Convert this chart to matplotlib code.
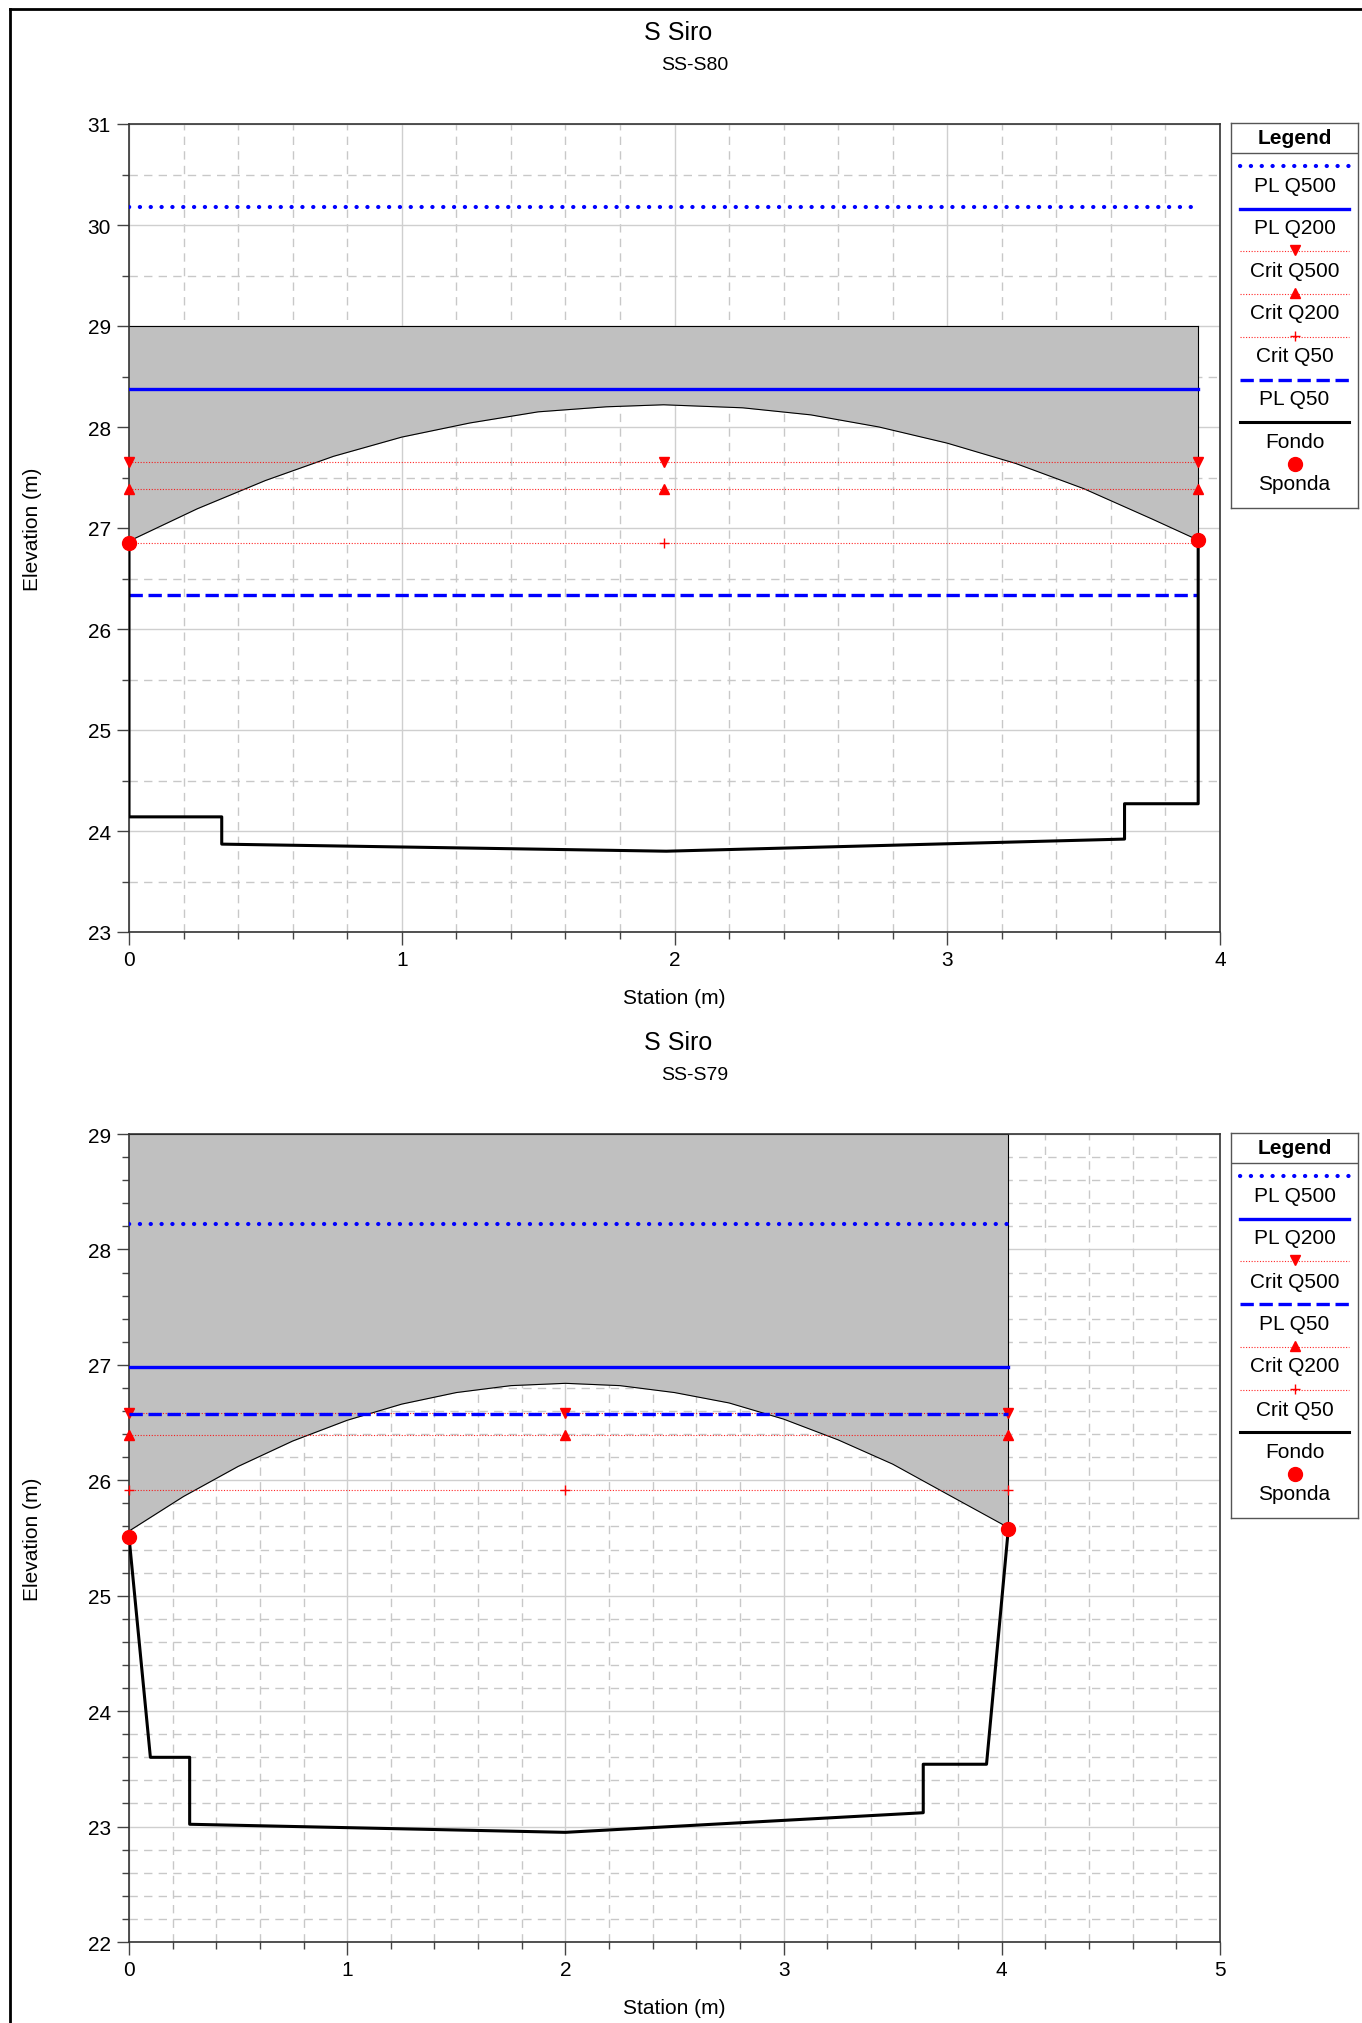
import matplotlib
matplotlib.use('Agg')
import matplotlib.pyplot as plt
from matplotlib.lines import Line2D
from matplotlib.ticker import MultipleLocator

plt.rcParams['font.family'] = ['Liberation Sans', 'DejaVu Sans']

W, H = 1362, 2024
fig = plt.figure(figsize=(W / 100, H / 100), dpi=100)

# ---------------- data: SS-S80 ----------------
s80_arch_x = [0, 0.25, 0.5, 0.75, 1.0, 1.25, 1.5, 1.75, 1.96, 2.25, 2.5, 2.75, 3.0, 3.25, 3.5, 3.75, 3.92]
s80_arch_y = [26.87, 27.19, 27.47, 27.71, 27.90, 28.04, 28.15, 28.20, 28.22, 28.19, 28.12, 28.00, 27.84, 27.64, 27.39, 27.09, 26.88]
s80_deck_top = 29.0
s80_fondo_x = [0, 0, 0.34, 0.34, 1.97, 3.65, 3.65, 3.92, 3.92]
s80_fondo_y = [26.85, 24.14, 24.14, 23.87, 23.80, 23.92, 24.27, 24.27, 26.88]
s80_sponda_x = [0, 3.92]
s80_sponda_y = [26.85, 26.88]
s80_ws_x = [0, 3.92]
s80_pl_q500 = 30.18
s80_pl_q200 = 28.38
s80_pl_q50 = 26.34
s80_crit_x = [0, 1.96, 3.92]
s80_crit_q500 = 27.65
s80_crit_q200 = 27.39
s80_crit_q50 = 26.85

# ---------------- data: SS-S79 ----------------
s79_arch_x = [0, 0.25, 0.5, 0.75, 1.0, 1.25, 1.5, 1.75, 2.0, 2.25, 2.5, 2.75, 3.0, 3.25, 3.5, 3.75, 4.03]
s79_arch_y = [25.56, 25.86, 26.12, 26.34, 26.52, 26.66, 26.76, 26.82, 26.84, 26.82, 26.76, 26.67, 26.53, 26.35, 26.14, 25.88, 25.59]
s79_deck_top = 29.0
s79_fondo_x = [0, 0.098, 0.278, 0.278, 2.0, 3.64, 3.64, 3.93, 4.03]
s79_fondo_y = [25.51, 23.60, 23.60, 23.02, 22.95, 23.12, 23.54, 23.54, 25.58]
s79_sponda_x = [0, 4.03]
s79_sponda_y = [25.51, 25.58]
s79_ws_x = [0, 4.03]
s79_pl_q500 = 28.22
s79_pl_q200 = 26.98
s79_pl_q50 = 26.57
s79_crit_x = [0, 2.0, 4.03]
s79_crit_q500 = 26.58
s79_crit_q200 = 26.39
s79_crit_q50 = 25.92

title_main = "S Siro"
xlabel = "Station (m)"
ylabel = "Elevation (m)"

BLUE = '#0000FF'
RED = '#FF0000'
STYLES = {
    'PL Q500': dict(color=BLUE, lw=3.0, linestyle=(0, (0.05, 2.55)), dash_capstyle='round', solid_capstyle='round'),
    'PL Q200': dict(color=BLUE, lw=2.4, linestyle='-'),
    'PL Q50': dict(color=BLUE, lw=2.4, linestyle=(0, (4.0, 1.7))),
    'Crit Q500': dict(color=RED, lw=0.8, linestyle=(0, (1, 1.5)), alpha=0.85, marker='v', ms=6.5),
    'Crit Q200': dict(color=RED, lw=0.8, linestyle=(0, (1, 1.5)), alpha=0.85, marker='^', ms=6.5),
    'Crit Q50': dict(color=RED, lw=0.8, linestyle=(0, (1, 1.5)), alpha=0.85, marker='+', ms=7, mew=1),
    'Fondo': dict(color='black', lw=2.2, linestyle='-'),
}

TICK_FS = 15
LABEL_FS = 15
LEG_FS = 15


def draw_section(ax, arch_x, arch_y, top, fondo_x, fondo_y, sp_x, sp_y, ws_x,
                 q500, q200, q50, crit_x, c500, c200, c50, xmax, ymin, ymax, yminor):
    ax.set_xlim(0, xmax)
    ax.set_ylim(ymin, ymax)
    ax.xaxis.set_major_locator(MultipleLocator(1))
    ax.xaxis.set_minor_locator(MultipleLocator(0.2))
    ax.yaxis.set_major_locator(MultipleLocator(1))
    ax.yaxis.set_minor_locator(MultipleLocator(yminor))
    ax.grid(True, which='major', color='#CFCFCF', lw=1.0, zorder=0)
    ax.grid(True, which='minor', color='#C8C8C8', lw=1.0, linestyle=(0, (6, 4.5)), zorder=0)
    ax.set_axisbelow(True)
    ax.tick_params(which='major', direction='out', length=9, width=1, colors='#444444',
                   labelcolor='black', labelsize=TICK_FS, pad=4)
    ax.tick_params(which='minor', direction='out', length=5, width=1, colors='#444444')
    for s in ax.spines.values():
        s.set_color('#333333')
        s.set_linewidth(1.2)

    # bridge deck
    ax.fill_between(arch_x, arch_y, top, color='#C0C0C0', lw=0, zorder=1)
    ax.plot(arch_x, arch_y, color='black', lw=0.8, zorder=2)
    ax.plot([arch_x[0], arch_x[-1]], [top, top], color='black', lw=0.8, zorder=2)
    ax.plot([arch_x[-1], arch_x[-1]], [arch_y[-1], top], color='black', lw=0.8, zorder=2)

    # crit lines
    for val, name in [(c500, 'Crit Q500'), (c200, 'Crit Q200'), (c50, 'Crit Q50')]:
        st = dict(STYLES[name])
        marker = st.pop('marker'); ms = st.pop('ms'); mew = st.pop('mew', None)
        ax.plot(ws_x, [val] * len(ws_x), zorder=3, **st)
        kw = dict(color=RED, ms=ms, lw=0, marker=marker, zorder=3.5, clip_on=False)
        if mew:
            kw['mew'] = mew
        ax.plot(crit_x, [val] * len(crit_x), **kw)

    ax.plot(ws_x, [q500] * len(ws_x), zorder=4, **STYLES['PL Q500'])
    ax.plot(ws_x, [q200] * len(ws_x), zorder=4, **STYLES['PL Q200'])
    ax.plot(ws_x, [q50] * len(ws_x), zorder=4, **STYLES['PL Q50'])

    ax.plot(fondo_x, fondo_y, zorder=5, **STYLES['Fondo'])
    ax.plot(sp_x, sp_y, 'o', color=RED, ms=10, zorder=6, clip_on=False)


def draw_legend(top_px, order):
    h = 385
    w = 127
    lax = fig.add_axes([1231 / W, 1 - (top_px + h) / H, w / W, h / H])
    lax.set_xlim(0, w)
    lax.set_ylim(h, 0)
    lax.set_xticks([]); lax.set_yticks([])
    for s in lax.spines.values():
        s.set_color('#555555'); s.set_linewidth(1.0)
    lax.text(w / 2, 15, 'Legend', ha='center', va='center', fontsize=LEG_FS, fontweight='bold')
    lax.plot([0, w], [30, 30], color='#555555', lw=1.0)
    line_y = [43, 86, 128, 171, 214, 257, 299]
    text_y = [63, 105, 148, 190, 233, 276, 319]
    for name, ly, ty in zip(order, line_y, text_y):
        st = dict(STYLES[name])
        marker = st.pop('marker', None); ms = st.pop('ms', None); mew = st.pop('mew', None)
        lax.plot([9, 118], [ly, ly], **st)
        if marker:
            kw = dict(color=RED, ms=ms, lw=0, marker=marker)
            if mew:
                kw['mew'] = mew
            lax.plot([64], [ly - 1], **kw)
        lax.text(w / 2, ty, name, ha='center', va='center', fontsize=LEG_FS)
    lax.plot([64], [341], 'o', color=RED, ms=10)
    lax.text(w / 2, 361, 'Sponda', ha='center', va='center', fontsize=LEG_FS)


# ---- chart 1 ----
ax1 = fig.add_axes([129 / W, 1 - 933 / H, 1091 / W, 808 / H])
draw_section(ax1, s80_arch_x, s80_arch_y, s80_deck_top, s80_fondo_x, s80_fondo_y,
             s80_sponda_x, s80_sponda_y, s80_ws_x, s80_pl_q500, s80_pl_q200, s80_pl_q50,
             s80_crit_x, s80_crit_q500, s80_crit_q200, s80_crit_q50, 4, 23, 31, 0.5)
fig.text(678 / W, 1 - 33 / H, title_main, ha='center', va='center', fontsize=18)
fig.text(695 / W, 1 - 65 / H, 'SS-S80', ha='center', va='center', fontsize=14)
fig.text(674 / W, 1 - 999 / H, xlabel, ha='center', va='center', fontsize=LABEL_FS)
fig.text(33 / W, 1 - 529 / H, ylabel, ha='center', va='center', fontsize=LABEL_FS, rotation=90)
draw_legend(124, ['PL Q500', 'PL Q200', 'Crit Q500', 'Crit Q200', 'Crit Q50', 'PL Q50', 'Fondo'])

# ---- chart 2 ----
ax2 = fig.add_axes([129 / W, 1 - 1943 / H, 1091 / W, 808 / H])
draw_section(ax2, s79_arch_x, s79_arch_y, s79_deck_top, s79_fondo_x, s79_fondo_y,
             s79_sponda_x, s79_sponda_y, s79_ws_x, s79_pl_q500, s79_pl_q200, s79_pl_q50,
             s79_crit_x, s79_crit_q500, s79_crit_q200, s79_crit_q50, 5, 22, 29, 0.2)
fig.text(678 / W, 1 - 1043 / H, title_main, ha='center', va='center', fontsize=18)
fig.text(695 / W, 1 - 1075 / H, 'SS-S79', ha='center', va='center', fontsize=14)
fig.text(674 / W, 1 - 2009 / H, xlabel, ha='center', va='center', fontsize=LABEL_FS)
fig.text(33 / W, 1 - 1539 / H, ylabel, ha='center', va='center', fontsize=LABEL_FS, rotation=90)
draw_legend(1134, ['PL Q500', 'PL Q200', 'Crit Q500', 'PL Q50', 'Crit Q200', 'Crit Q50', 'Fondo'])

# page frame (top and left)
fig.add_artist(Line2D([10 / W, 10 / W], [0, 1 - 10 / H], transform=fig.transFigure, color='black', lw=2))
fig.add_artist(Line2D([10 / W, 1], [1 - 10 / H, 1 - 10 / H], transform=fig.transFigure, color='black', lw=2))

fig.savefig('out.png', dpi=100)
